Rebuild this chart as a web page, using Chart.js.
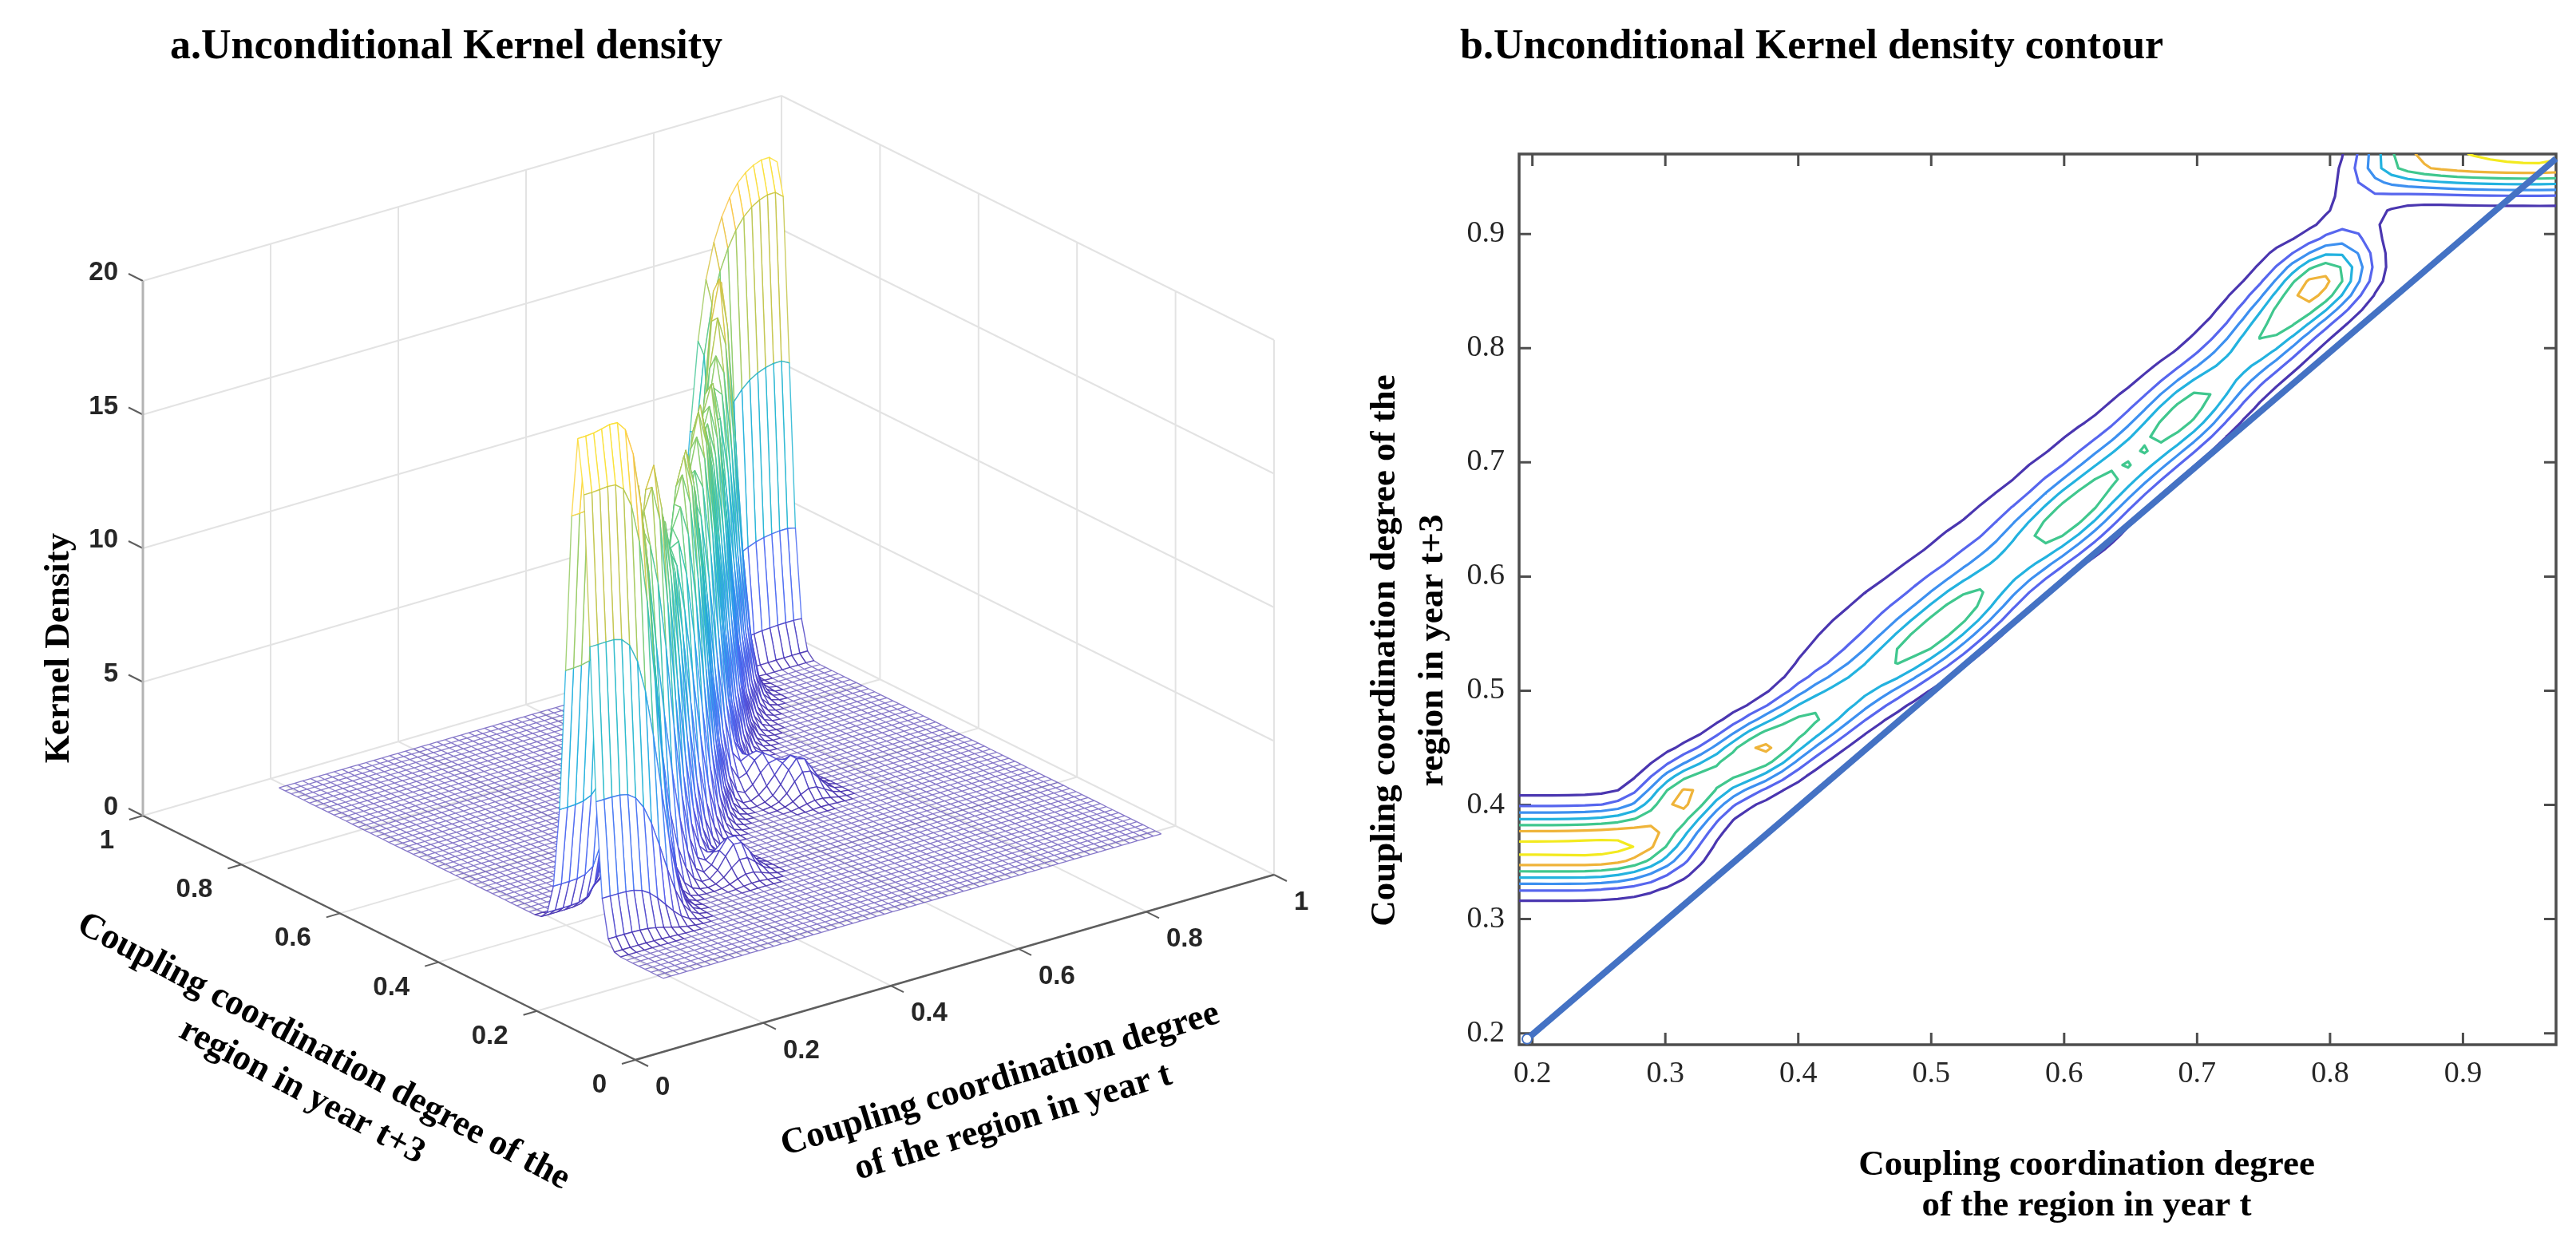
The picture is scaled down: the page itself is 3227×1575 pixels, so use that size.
<!DOCTYPE html>
<html>
<head>
<meta charset="utf-8">
<script src="https://cdn.jsdelivr.net/npm/chart.js@4.4.1/dist/chart.umd.min.js"></script>
<style>
  html, body { margin: 0; padding: 0; background: #fff; overflow: hidden; }
  #wrap { position: relative; width: 3227px; height: 1575px; }
  canvas { position: absolute; top: 0; }
  #surface { left: 0; }
  #contour { left: 1650px; }
</style>
</head>
<body>
<div id="wrap">
  <canvas id="surface" width="1650" height="1575"></canvas>
  <canvas id="contour" width="1577" height="1575"></canvas>
</div>
<script>
// ---- sample behind the kernel estimate ----
// coupling coordination degree of a region in year t / year t+3, and the weight of each pair
const obsT = [
  0.05, 0.05, 0.07, 0.07, 0.09, 0.09, 0.11, 0.11, 0.13, 0.13,
  0.15, 0.15, 0.17, 0.17, 0.19, 0.19, 0.21, 0.21, 0.23, 0.23, 0.25, 0.25, 0.27, 0.27,
  0.29, 0.29, 0.31, 0.31,
  0.31, 0.33, 0.35, 0.37, 0.39, 0.41, 0.43, 0.45, 0.47, 0.49, 0.51, 0.53, 0.55,
  0.57, 0.59, 0.61, 0.63, 0.65, 0.67, 0.69, 0.71, 0.73, 0.75, 0.77, 0.79, 0.81,
  0.40, 0.43, 0.46, 0.49, 0.52, 0.55, 0.58, 0.61, 0.64, 0.67, 0.70, 0.73, 0.76,
  0.815, 0.822,
  0.84, 0.86, 0.88, 0.90, 0.92, 0.94, 0.96, 0.98, 1.00,
  0.468, 0.658, 0.69
];
const obsT3 = [
  0.352, 0.372, 0.352, 0.372, 0.352, 0.372, 0.352, 0.372, 0.352, 0.372,
  0.352, 0.372, 0.352, 0.372, 0.352, 0.372, 0.352, 0.372, 0.352, 0.372, 0.352, 0.372, 0.354, 0.374,
  0.358, 0.378, 0.362, 0.382,
  0.405, 0.421, 0.433, 0.446, 0.461, 0.476, 0.491, 0.507, 0.523, 0.540, 0.558, 0.578, 0.598,
  0.619, 0.639, 0.659, 0.680, 0.700, 0.720, 0.742, 0.764, 0.786, 0.808, 0.832, 0.855, 0.873,
  0.528, 0.551, 0.575, 0.600, 0.628, 0.658, 0.689, 0.719, 0.750, 0.780, 0.813, 0.846, 0.880,
  0.905, 0.935,
  0.966, 0.966, 0.966, 0.966, 0.966, 0.966, 0.966, 0.966, 0.966,
  0.410, 0.605, 0.565
];
const obsWeight = [
  4.2, 4.2, 4.2, 4.2, 4.2, 4.2, 4.2, 4.2, 4.2, 4.2,
  4.2, 4.2, 4.2, 4.2, 4.2, 4.2, 4.2, 4.2, 4.2, 4.2, 4.3, 4.3, 4.3, 4.3,
  4.0, 4.0, 1.8, 1.8,
  10.3, 6.0, 5.5, 9.3, 6.3, 6.9, 5.7, 5.4, 6.3, 7.4, 7.7, 7.8, 6.0,
  6.5, 7.7, 8.3, 7.4, 6.8, 7.2, 8.8, 7.2, 5.9, 7.8, 8.6, 10.5, 6.8,
  1.4, 2.0, 2.4, 2.4, 2.4, 2.2, 2.0, 1.8, 1.5, 1.2, 1.0, 1.2, 1.2,
  2.0, 2.2,
  5.8, 6.1, 6.7, 7.2, 7.3, 7.45, 7.45, 7.45, 7.45,
  1.4, 1.4, 1.4
];
const bandwidth = 0.02;

// axes
const gridMin = 0.19, gridMax = 0.97, gridCount = 64;
const axisTicks3d = [0, 0.2, 0.4, 0.6, 0.8, 1];
const densityTicks = [0, 5, 10, 15, 20];
const contourTicks = [0.2, 0.3, 0.4, 0.5, 0.6, 0.7, 0.8, 0.9];
const contourLevels = [2.5, 5, 7.5, 10, 12.5, 15, 17.5];
const levelColors = ['#4a36b0', '#5766ee', '#3d90f0', '#23b2df', '#40c78e', '#efb43a', '#f3ea1f'];
// 45 degree reference line drawn on the contour panel
const diagT = [0.196, 0.970];
const diagT3 = [0.195, 0.966];

// ---- kernel density on the grid ----
const wSum = obsWeight.reduce((a, b) => a + b, 0);
function density(x, y) {
  let s = 0;
  for (let i = 0; i < obsT.length; i++) {
    const dx = x - obsT[i], dy = y - obsT3[i];
    s += obsWeight[i] * Math.exp(-(dx * dx + dy * dy) / (2 * bandwidth * bandwidth));
  }
  return s / (wSum * 2 * Math.PI * bandwidth * bandwidth);
}
const gx = [];
for (let i = 0; i < gridCount; i++) gx.push(gridMin + (gridMax - gridMin) * i / (gridCount - 1));
const gy = gx.slice();
const Z = gy.map(y => gx.map(x => density(x, y)));
let zMax = 0;
Z.forEach(r => r.forEach(v => { if (v > zMax) zMax = v; }));

// parula-like colour map
const PARULA = [[62,38,168],[70,80,238],[40,130,248],[16,170,220],[30,190,175],[105,203,110],[200,192,55],[252,192,58],[249,251,20]];
function parula(v, alpha) {
  v = Math.min(1, Math.max(0, v)) * (PARULA.length - 1);
  const i = Math.min(PARULA.length - 2, Math.floor(v)), f = v - i;
  const c = PARULA[i].map((a, k) => Math.round(a + (PARULA[i + 1][k] - a) * f));
  return 'rgba(' + c[0] + ',' + c[1] + ',' + c[2] + ',' + (alpha === undefined ? 1 : alpha) + ')';
}

// ---- 3D view (orthographic, MATLAB default style box) ----
const VIEW = { ox: 796, oy: 1328, tx: 800, ty: -232, sx: -617, sy: -306, zy: -33.5 };
function proj(t, s, z) {
  return { x: VIEW.ox + VIEW.tx * t + VIEW.sx * s, y: VIEW.oy + VIEW.ty * t + VIEW.sy * s + VIEW.zy * z };
}
const GAP = { x: null, y: null };
function seg3(list, a, b) { list.push(proj(...a), proj(...b), GAP); }

const wallPts = [];
axisTicks3d.forEach(t => { seg3(wallPts, [t, 1, 0], [t, 1, 20]); seg3(wallPts, [t, 0, 0], [t, 1, 0]); });
axisTicks3d.forEach(s => { seg3(wallPts, [1, s, 0], [1, s, 20]); seg3(wallPts, [0, s, 0], [1, s, 0]); });
densityTicks.forEach(z => { seg3(wallPts, [0, 1, z], [1, 1, z]); seg3(wallPts, [1, 0, z], [1, 1, z]); });

const axisPts = [];
seg3(axisPts, [0, 0, 0], [1, 0, 0]);
seg3(axisPts, [0, 0, 0], [0, 1, 0]);
const zAxisPts = [];
seg3(zAxisPts, [0, 1, 0], [0, 1, 20]);
const tickPts = [];
function tick(p, dx, dy) { tickPts.push(p, { x: p.x + dx, y: p.y + dy }, GAP); }
axisTicks3d.forEach(t => tick(proj(t, 0, 0), 16, 8));
axisTicks3d.forEach(s => tick(proj(0, s, 0), -17, 5));
densityTicks.forEach(z => tick(proj(0, 1, z), -18, -9));

// mesh: flat floor part as one line set, raised quads painted far to near
const FLAT = 0.04;
const floorPts = [];
for (let j = 0; j < gridCount; j++) {
  for (let i = 0; i < gridCount; i++) {
    if (i < gridCount - 1 && Z[j][i] < FLAT && Z[j][i + 1] < FLAT) {
      floorPts.push(proj(gx[i], gy[j], Z[j][i]), proj(gx[i + 1], gy[j], Z[j][i + 1]), GAP);
    }
    if (j < gridCount - 1 && Z[j][i] < FLAT && Z[j + 1][i] < FLAT) {
      floorPts.push(proj(gx[i], gy[j], Z[j][i]), proj(gx[i], gy[j + 1], Z[j + 1][i]), GAP);
    }
  }
}
const quads = [];
for (let j = 0; j < gridCount - 1; j++) {
  for (let i = 0; i < gridCount - 1; i++) {
    const zs = [Z[j][i], Z[j][i + 1], Z[j + 1][i + 1], Z[j + 1][i]];
    if (Math.max(...zs) < FLAT) continue;
    const pts = [
      proj(gx[i], gy[j], zs[0]), proj(gx[i + 1], gy[j], zs[1]),
      proj(gx[i + 1], gy[j + 1], zs[2]), proj(gx[i], gy[j + 1], zs[3])
    ];
    pts.push(pts[0]);
    const tc = (gx[i] + gx[i + 1]) / 2, sc = (gy[j] + gy[j + 1]) / 2;
    const mean = (zs[0] + zs[1] + zs[2] + zs[3]) / 4;
    quads.push({ pts, depth: -(VIEW.ty * tc + VIEW.sy * sc), color: parula(mean / zMax, 0.8) });
  }
}
quads.sort((a, b) => a.depth - b.depth); // nearest first: Chart.js paints the last dataset first

// ---- contour lines (marching squares on the same grid) ----
function contourSegments(level) {
  const segs = [];
  for (let j = 0; j < gridCount - 1; j++) {
    for (let i = 0; i < gridCount - 1; i++) {
      const a = Z[j][i], b = Z[j][i + 1], c = Z[j + 1][i + 1], d = Z[j + 1][i];
      let idx = 0;
      if (a >= level) idx |= 1;
      if (b >= level) idx |= 2;
      if (c >= level) idx |= 4;
      if (d >= level) idx |= 8;
      if (idx === 0 || idx === 15) continue;
      const x0 = gx[i], x1 = gx[i + 1], y0 = gy[j], y1 = gy[j + 1];
      const E = {
        B: () => ({ x: x0 + (x1 - x0) * (level - a) / (b - a), y: y0 }),
        R: () => ({ x: x1, y: y0 + (y1 - y0) * (level - b) / (c - b) }),
        T: () => ({ x: x0 + (x1 - x0) * (level - d) / (c - d), y: y1 }),
        L: () => ({ x: x0, y: y0 + (y1 - y0) * (level - a) / (d - a) })
      };
      const centre = (a + b + c + d) / 4 >= level;
      const table = {
        1: ['LB'], 2: ['BR'], 3: ['LR'], 4: ['RT'], 6: ['BT'], 7: ['LT'], 8: ['TL'],
        9: ['TB'], 11: ['TR'], 12: ['RL'], 13: ['RB'], 14: ['BL'],
        5: centre ? ['BR', 'TL'] : ['LB', 'RT'],
        10: centre ? ['LB', 'RT'] : ['BR', 'TL']
      };
      table[idx].forEach(e => segs.push([E[e[0]](), E[e[1]]()]));
    }
  }
  return segs;
}
function chainSegments(segs) {
  const key = p => p.x.toFixed(7) + ',' + p.y.toFixed(7);
  const ends = new Map();
  segs.forEach((s, k) => s.forEach(p => {
    const kk = key(p);
    if (!ends.has(kk)) ends.set(kk, []);
    ends.get(kk).push(k);
  }));
  const used = new Array(segs.length).fill(false);
  const lines = [];
  for (let k = 0; k < segs.length; k++) {
    if (used[k]) continue;
    used[k] = true;
    const line = [segs[k][0], segs[k][1]];
    for (const fwd of [true, false]) {
      for (;;) {
        const tail = fwd ? line[line.length - 1] : line[0];
        const tk = key(tail);
        const m = (ends.get(tk) || []).find(n => !used[n]);
        if (m === undefined) break;
        used[m] = true;
        const nxt = key(segs[m][0]) === tk ? segs[m][1] : segs[m][0];
        if (fwd) line.push(nxt); else line.unshift(nxt);
      }
    }
    lines.push(line);
  }
  return lines;
}

// ---- shared plugins ----
const textLayer = {
  id: 'textLayer',
  afterDraw(chart, args, opts) {
    const ctx = chart.ctx;
    (opts.items || []).forEach(it => {
      ctx.save();
      ctx.translate(it.x, it.y);
      if (it.rotate) ctx.rotate(it.rotate * Math.PI / 180);
      ctx.font = it.font;
      ctx.fillStyle = it.color || '#000';
      ctx.textAlign = it.align || 'left';
      ctx.textBaseline = it.baseline || 'alphabetic';
      [].concat(it.text).forEach((ln, k) => ctx.fillText(ln, 0, k * (it.lineGap || 0)));
      ctx.restore();
    });
  }
};
// tick labels of the 3D box, anchored to projected axis points
const boxLabels = {
  id: 'boxLabels',
  afterDatasetsDraw(chart, args, opts) {
    const ctx = chart.ctx, sx = chart.scales.x, sy = chart.scales.y;
    const fmt = v => (v === 0 || v === 1) ? String(v) : v.toFixed(1);
    ctx.save();
    ctx.font = opts.font;
    ctx.fillStyle = opts.color;
    ctx.textBaseline = 'middle';
    const put = (p, dx, dy, txt, align) => {
      ctx.textAlign = align;
      ctx.fillText(txt, sx.getPixelForValue(p.x) + dx, sy.getPixelForValue(p.y) + dy);
    };
    axisTicks3d.forEach(t => put(proj(t, 0, 0), 25, 35, fmt(t), 'left'));
    axisTicks3d.forEach(s => put(proj(0, s, 0), -36, 32, fmt(s), 'right'));
    densityTicks.forEach(z => put(proj(0, 1, z), -31, -10, String(z), 'right'));
    ctx.restore();
  }
};
const frame = {
  id: 'frame',
  beforeDatasetsDraw(chart) {
    const { ctx, chartArea: a } = chart;
    const sx = chart.scales.x, sy = chart.scales.y;
    ctx.save();
    ctx.strokeStyle = '#4d4d4d';
    ctx.lineWidth = 3.5;
    ctx.strokeRect(a.left, a.top, a.right - a.left, a.bottom - a.top);
    ctx.lineWidth = 3;
    ctx.beginPath();
    contourTicks.forEach(v => {
      const px = sx.getPixelForValue(v), py = sy.getPixelForValue(v);
      ctx.moveTo(px, a.bottom); ctx.lineTo(px, a.bottom - 15);
      ctx.moveTo(px, a.top); ctx.lineTo(px, a.top + 15);
      ctx.moveTo(a.left, py); ctx.lineTo(a.left + 15, py);
      ctx.moveTo(a.right, py); ctx.lineTo(a.right - 15, py);
    });
    ctx.stroke();
    ctx.restore();
  }
};

Chart.defaults.animation = false;
Chart.defaults.responsive = false;
Chart.defaults.devicePixelRatio = 1;
Chart.defaults.events = [];
Chart.defaults.plugins.legend.display = false;
Chart.defaults.plugins.tooltip.enabled = false;

const serifBold = size => 'bold ' + size + 'px "Liberation Serif", "Times New Roman", serif';

// ---- panel a: mesh ----
const surfaceSets = [
  { data: wallPts, borderColor: '#e3e3e3', borderWidth: 2, order: 4 },
  { data: floorPts, borderColor: parula(0, 0.62), borderWidth: 1.3, order: 3 },
  ...quads.map(q => ({ data: q.pts, borderColor: q.color, backgroundColor: '#ffffff', fill: 'shape', borderWidth: 1.4, borderJoinStyle: 'round', order: 2 })),
  { data: zAxisPts, borderColor: '#b3b3b3', borderWidth: 3, order: 1 },
  { data: axisPts, borderColor: '#5e5e5e', borderWidth: 2.5, order: 1 },
  { data: tickPts, borderColor: '#5e5e5e', borderWidth: 2, order: 1 }
];
new Chart(document.getElementById('surface'), {
  type: 'line',
  data: { datasets: surfaceSets },
  options: {
    layout: { padding: 0 },
    scales: {
      x: { type: 'linear', min: 0, max: 1650, display: false },
      y: { type: 'linear', min: 0, max: 1575, reverse: true, display: false }
    },
    elements: { point: { radius: 0 }, line: { tension: 0 } },
    plugins: {
      boxLabels: { font: 'bold 33px "Liberation Sans", Arial, sans-serif', color: '#262626' },
      textLayer: { items: [
        { x: 213, y: 73, text: 'a.Unconditional Kernel density', font: serifBold(52) },
        { x: 86, y: 812, rotate: -90, align: 'center', text: 'Kernel Density', font: serifBold(45) },
        { x: 405, y: 1318, rotate: 28, align: 'center', baseline: 'middle', lineGap: 57,
          text: ['Coupling coordination degree of the', 'region in year t+3'], font: serifBold(45) },
        { x: 1253, y: 1353, rotate: -17, align: 'center', baseline: 'middle', lineGap: 56,
          text: ['Coupling coordination degree', 'of the region in year t'], font: serifBold(45) }
      ] }
    }
  },
  plugins: [boxLabels, textLayer]
});

// ---- panel b: contour ----
const contourSets = contourLevels.map((lv, k) => {
  const data = [];
  chainSegments(contourSegments(lv)).forEach(line => { data.push(...line, GAP); });
  return { data, borderColor: levelColors[k], borderWidth: 3.2, borderJoinStyle: 'round', borderCapStyle: 'round', spanGaps: false, pointRadius: 0 };
});
contourSets.unshift({
  data: diagT.map((t, k) => ({ x: t, y: diagT3[k] })),
  borderColor: '#4472c4', borderWidth: 8, clip: false,
  pointRadius: [6, 0], pointBackgroundColor: '#ffffff', pointBorderColor: '#4472c4', pointBorderWidth: 2
});
const tickFont = { family: '"Liberation Serif", "Times New Roman", serif', size: 38 };
new Chart(document.getElementById('contour'), {
  type: 'line',
  data: { datasets: contourSets },
  options: {
    layout: { padding: { left: 0, right: 25, top: 193, bottom: 0 } },
    scales: {
      x: {
        type: 'linear', min: gridMin, max: gridMax,
        afterFit: s => { s.height = 266; },
        afterBuildTicks: s => { s.ticks = contourTicks.map(v => ({ value: v })); },
        grid: { display: false, drawTicks: false }, border: { display: false },
        ticks: { padding: 14, font: tickFont, color: '#262626', maxRotation: 0, autoSkip: false, callback: v => v.toFixed(1) }
      },
      y: {
        type: 'linear', min: gridMin, max: gridMax,
        afterFit: s => { s.width = 253; },
        afterBuildTicks: s => { s.ticks = contourTicks.map(v => ({ value: v })); },
        grid: { display: false, drawTicks: false }, border: { display: false },
        ticks: { padding: 18, font: tickFont, color: '#262626', autoSkip: false, callback: v => v.toFixed(1) }
      }
    },
    elements: { point: { radius: 0 }, line: { tension: 0 } },
    plugins: {
      textLayer: { items: [
        { x: 179, y: 73, text: 'b.Unconditional Kernel density contour', font: serifBold(52) },
        { x: 85, y: 815, rotate: -90, align: 'center', baseline: 'middle', lineGap: 60,
          text: ['Coupling coordination degree of the', 'region in year t+3'], font: serifBold(45) },
        { x: 964, y: 1472, align: 'center', lineGap: 51,
          text: ['Coupling coordination degree', 'of the region in year t'], font: serifBold(45) }
      ] }
    }
  },
  plugins: [frame, textLayer]
});
</script>
</body>
</html>
